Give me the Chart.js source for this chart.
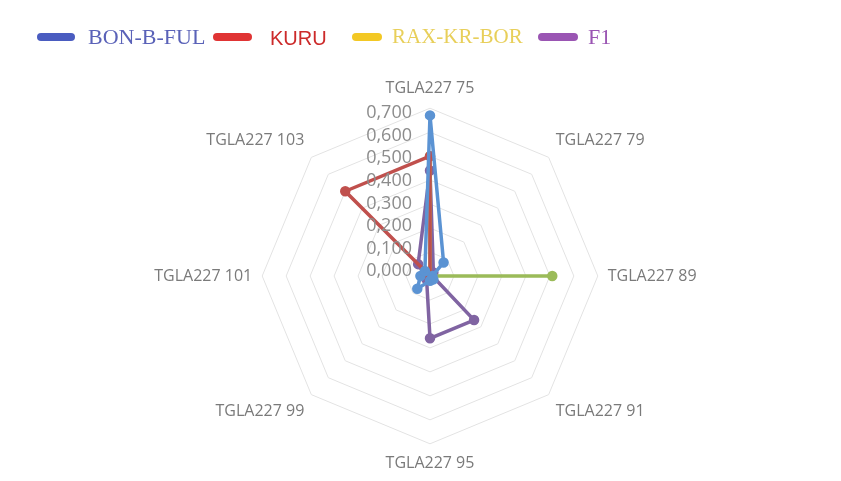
<!DOCTYPE html>
<html>
<head>
<meta charset="utf-8">
<script src="https://cdn.jsdelivr.net/npm/chart.js@4.4.0/dist/chart.umd.min.js"></script>
<style>
    html, body { margin: 0; padding: 0; background: #fff; }
    #wrap { position: relative; width: 841px; height: 481px; }
    #legend { position: absolute; top: 0; left: 0; width: 841px; height: 60px; }
    #legend .sw { position: absolute; top: 33px; height: 8px; border-radius: 4px; }
    #legend .txt { position: absolute; line-height: 28px; white-space: nowrap; }
    canvas { position: absolute; top: 0; left: 0; }
</style>
</head>
<body>
<div id="wrap">
    <canvas id="radarChart" width="841" height="481"></canvas>
    <div id="legend"></div>
</div>
<script>
const categories = ['TGLA227 75', 'TGLA227 79', 'TGLA227 89', 'TGLA227 91', 'TGLA227 95', 'TGLA227 99', 'TGLA227 101', 'TGLA227 103'];
const tickValues = [0, 0.1, 0.2, 0.3, 0.4, 0.5, 0.6, 0.7];
const seriesNames = ['BON-B-FUL', 'KURU', 'RAX-KR-BOR', 'F1'];
const bonBFul = [0.67, 0.08, 0.01, 0.02, 0.02, 0.075, 0.04, 0.03];
const kuru = [0.50, 0, 0, 0, 0, 0, 0, 0.50];
const raxKrBor = [0.50, 0, 0.51, 0, 0, 0, 0, 0];
const f1 = [0.44, 0.02, 0.01, 0.26, 0.26, 0.02, 0.02, 0.07];

const lineColors = ['#5b93d3', '#c0504d', '#9bbb59', '#8064a2'];

// legend (colours differ from the lines, as in the original)
const legendItems = [
    { name: seriesNames[0], sw: '#4a5cc0', swX: 37, swW: 38, x: 88, top: 24, color: '#5a62b8', font: '22px "Liberation Serif", serif' },
    { name: seriesNames[1], sw: '#e03434', swX: 213, swW: 39, x: 270, top: 27, color: '#cc2a2a', font: '20px "Liberation Sans", sans-serif' },
    { name: seriesNames[2], sw: '#f3c824', swX: 352, swW: 30, x: 392, top: 24, color: '#e8cf5a', font: '21px "Liberation Serif", serif' },
    { name: seriesNames[3], sw: '#9a55b3', swX: 538, swW: 40, x: 588, top: 24, color: '#9a55b3', font: '22px "Liberation Serif", serif' }
];
const legendEl = document.getElementById('legend');
legendItems.forEach(it => {
    const sw = document.createElement('span');
    sw.className = 'sw';
    sw.style.left = it.swX + 'px';
    sw.style.width = it.swW + 'px';
    sw.style.background = it.sw;
    legendEl.appendChild(sw);
    const t = document.createElement('span');
    t.className = 'txt';
    t.style.left = it.x + 'px';
    t.style.top = it.top + 'px';
    t.style.color = it.color;
    t.style.font = it.font;
    t.textContent = it.name;
    legendEl.appendChild(t);
});

// tick labels drawn to the left of the vertical axis
const sideTicks = {
    id: 'sideTicks',
    afterDatasetsDraw(chart) {
        const s = chart.scales.r;
        const ctx = chart.ctx;
        ctx.save();
        ctx.font = '18px "Open Sans", sans-serif';
        ctx.fillStyle = '#8c8c8c';
        ctx.textAlign = 'right';
        ctx.textBaseline = 'middle';
        tickValues.forEach(v => {
            const y = s.yCenter - s.getDistanceFromCenterForValue(v) * 0.94 - 5;
            ctx.fillText(v.toFixed(3).replace('.', ','), s.xCenter - 18, y);
        });
        ctx.restore();
    }
};

new Chart(document.getElementById('radarChart'), {
    type: 'radar',
    data: {
        labels: categories,
        datasets: [bonBFul, kuru, raxKrBor, f1].map((d, i) => ({
            label: seriesNames[i],
            data: d,
            borderColor: lineColors[i],
            backgroundColor: lineColors[i],
            pointBackgroundColor: lineColors[i],
            pointBorderColor: lineColors[i],
            borderWidth: 3.5,
            pointRadius: 3.5,
            fill: false
        }))
    },
    options: {
        responsive: false,
        animation: false,
        layout: { padding: { top: 79, bottom: 8, left: 30, right: 10 } },
        plugins: {
            legend: { display: false },
            tooltip: { enabled: false }
        },
        scales: {
            r: {
                min: 0,
                max: 0.7,
                ticks: { stepSize: 0.1, display: false },
                grid: { circular: false, color: '#e3e3e3', lineWidth: 1 },
                angleLines: { display: false },
                pointLabels: {
                    color: '#7a7a7a',
                    padding: 10,
                    font: { family: '"Open Sans", sans-serif', size: 16 }
                }
            }
        }
    },
    plugins: [sideTicks]
});
</script>
</body>
</html>
